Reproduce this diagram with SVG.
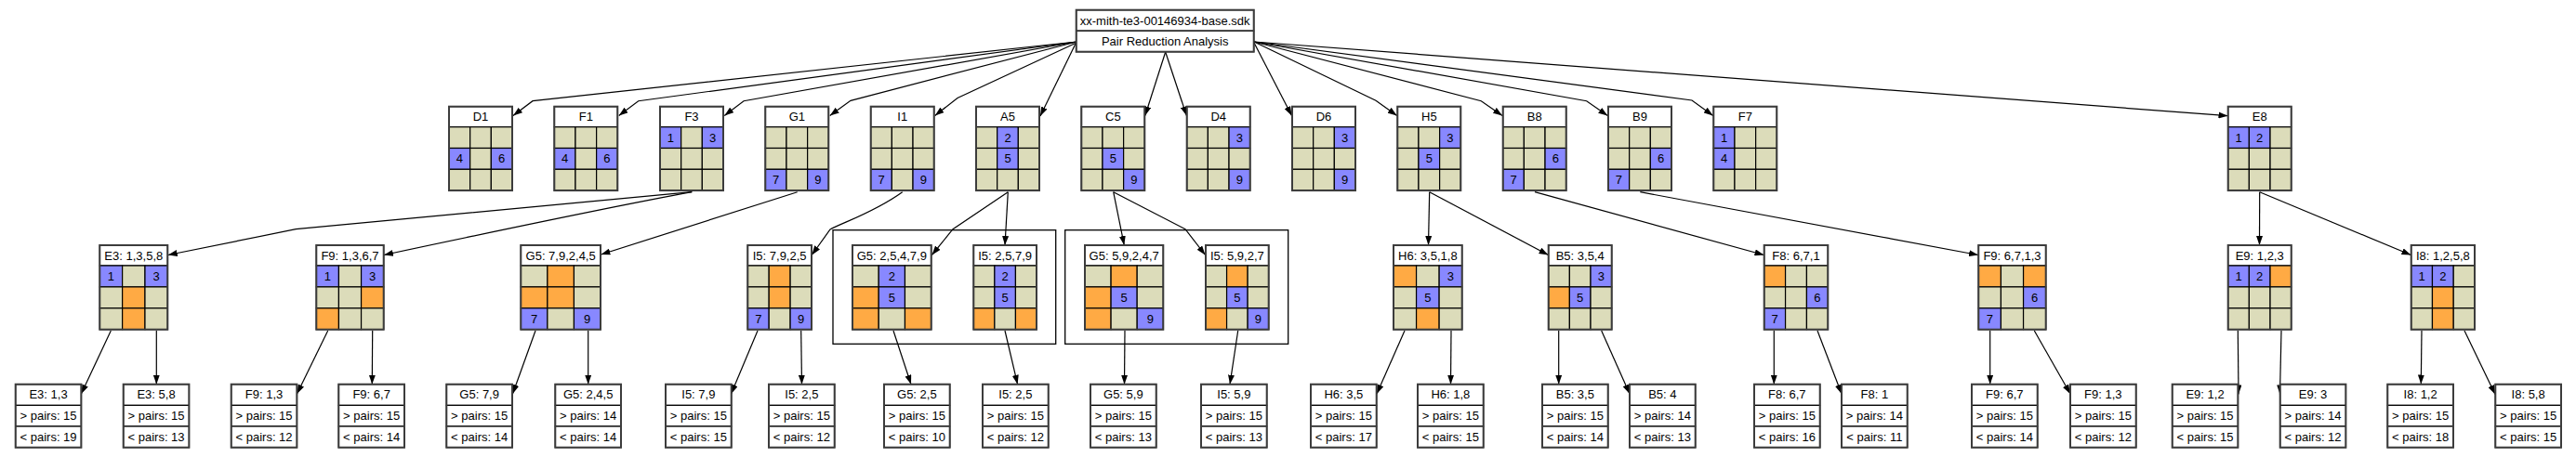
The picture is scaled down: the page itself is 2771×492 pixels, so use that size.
<svg xmlns="http://www.w3.org/2000/svg" width="2771" height="492" viewBox="0 0 2771 492">
<style>
.t{fill:#fff;stroke:#000;stroke-width:1.2}
.c{fill:#dcdcba;stroke:#000;stroke-width:1.2}
.b{fill:#8888ff;stroke:#000;stroke-width:1.2}
.o{fill:#ffaa44;stroke:#000;stroke-width:1.2}
.f{fill:none;stroke:#3c3c3c;stroke-width:2}
text{font-family:"Liberation Sans",Arial,sans-serif;font-size:13px;text-anchor:middle;fill:#000}
.e{fill:none;stroke:#000;stroke-width:1.2;marker-end:url(#ah)}
.cl{fill:none;stroke:#000;stroke-width:1.3}
</style>
<defs>
<marker id="ah" viewBox="0 0 10 7" refX="10" refY="3.5" markerWidth="10" markerHeight="7" markerUnits="userSpaceOnUse" orient="auto"><path d="M0,0L10,3.5L0,7z" fill="#000"/></marker>
</defs>
<rect width="2771" height="492" fill="#fff"/>
<g id="clusters">
<rect class="cl" x="896" y="247.7" width="239.7" height="122.6"/>
<rect class="cl" x="1145.7" y="247.7" width="240" height="122.6"/>
</g>
<g id="connectors">
<path class="e" d="M1158,45 L573,108.7 L552,124.5"/>
<path class="e" d="M1158,45 L686.7,108.7 L665.7,124.5"/>
<path class="e" d="M1158,45 L800,108.7 L779.3,124.5"/>
<path class="e" d="M1158,45 L915,108.3 L892.7,124.5"/>
<path class="e" d="M1158,46 L1030,105.5 L1005.7,124.5"/>
<path class="e" d="M1157,47 L1119,125"/>
<path class="e" d="M1253.7,56 L1231.8,124.5"/>
<path class="e" d="M1253.7,56 L1276.4,124.5"/>
<path class="e" d="M1349,46 L1389.5,124.5"/>
<path class="e" d="M1349,45 L1480,108.3 L1502.7,124.5"/>
<path class="e" d="M1349,45 L1593.3,108.7 L1616,124.5"/>
<path class="e" d="M1349,45 L1706.7,108.7 L1729.3,124.5"/>
<path class="e" d="M1349,45 L1820,108 L1842.7,124.5"/>
<path class="e" d="M1349,45 L2396.5,124.7"/>
<path class="e" d="M744.3,206.7 L318.3,246.7 L180.8,274.5"/>
<path class="e" d="M744.3,206.7 Q650,224 413,274.5"/>
<path class="e" d="M857.7,206.7 L646.5,274"/>
<path class="e" d="M970.7,206.7 C940,229 905,240 893,247 L873.3,274.5"/>
<path class="e" d="M1084.3,206.7 L1025,246.7 L1002.5,274.5"/>
<path class="e" d="M1084.3,206.7 L1081,264"/>
<path class="e" d="M1197.7,206.7 L1209.3,264"/>
<path class="e" d="M1197.7,206.7 L1275,246.7 L1296.5,274.5"/>
<path class="e" d="M1537.7,206.7 L1536.5,264"/>
<path class="e" d="M1537.7,206.7 L1665.5,274.5"/>
<path class="e" d="M1651,206.7 L1897.5,274.5"/>
<path class="e" d="M1764.3,206.7 L2128,274.5"/>
<path class="e" d="M2430.7,206.7 L2430.5,264"/>
<path class="e" d="M2430.7,206.7 L2593.5,274.5"/>
<path class="e" d="M119.3,356 L87.4,424"/>
<path class="e" d="M168.3,356 L168.3,413.7"/>
<path class="e" d="M352.7,356 L319.5,424"/>
<path class="e" d="M400.7,356 L400.3,413.7"/>
<path class="e" d="M576,356 L551.5,424"/>
<path class="e" d="M632.7,356 L632.7,413.7"/>
<path class="e" d="M815,356 L786.5,424"/>
<path class="e" d="M861.7,356 L862.5,413.7"/>
<path class="e" d="M961,356 L980,413.7"/>
<path class="e" d="M1081,356 L1094.6,413.7"/>
<path class="e" d="M1210,356 L1209.5,413.7"/>
<path class="e" d="M1331.7,356 L1323,413.7"/>
<path class="e" d="M1511,356 L1481,424"/>
<path class="e" d="M1561,356 L1560.5,413.7"/>
<path class="e" d="M1676.7,356 L1676.7,413.7"/>
<path class="e" d="M1722.7,356 L1753,424"/>
<path class="e" d="M1908.3,356 L1908.3,413.7"/>
<path class="e" d="M1955,356 L1981,424"/>
<path class="e" d="M2140.7,356 L2140.7,413.7"/>
<path class="e" d="M2188.3,356 L2227,424"/>
<path class="e" d="M2407.3,356 L2408,424.5"/>
<path class="e" d="M2454,356 L2452.5,424.5"/>
<path class="e" d="M2605,356 L2604.3,413.5"/>
<path class="e" d="M2651,356 L2684,424.5"/>
</g>

<g id="root" transform="translate(1157.7,10.7)">
<rect class="t" width="191" height="22.5"/><text x="95.5" y="16">xx-mith-te3-00146934-base.sdk</text>
<rect class="t" y="22.5" width="191" height="22.5"/><text x="95.5" y="38.5">Pair Reduction Analysis</text>
<rect class="f" width="191" height="45"/>
</g>

<g id="n_D1" transform="translate(483,114.7)">
<rect class="t" width="68" height="22"/><text x="34" y="15.5">D1</text>
<rect class="c" x="0" y="22" width="22.67" height="22.8"/><rect class="c" x="22.67" y="22" width="22.67" height="22.8"/><rect class="c" x="45.33" y="22" width="22.67" height="22.8"/>
<rect class="b" x="0" y="44.8" width="22.67" height="22.8"/><rect class="c" x="22.67" y="44.8" width="22.67" height="22.8"/><rect class="b" x="45.33" y="44.8" width="22.67" height="22.8"/>
<rect class="c" x="0" y="67.6" width="22.67" height="22.8"/><rect class="c" x="22.67" y="67.6" width="22.67" height="22.8"/><rect class="c" x="45.33" y="67.6" width="22.67" height="22.8"/>
<text x="11.33" y="60.8">4</text><text x="56.67" y="60.8">6</text>
<rect class="f" width="68" height="90.4"/>
</g>
<g id="n_F1" transform="translate(596.3,114.7)">
<rect class="t" width="68" height="22"/><text x="34" y="15.5">F1</text>
<rect class="c" x="0" y="22" width="22.67" height="22.8"/><rect class="c" x="22.67" y="22" width="22.67" height="22.8"/><rect class="c" x="45.33" y="22" width="22.67" height="22.8"/>
<rect class="b" x="0" y="44.8" width="22.67" height="22.8"/><rect class="c" x="22.67" y="44.8" width="22.67" height="22.8"/><rect class="b" x="45.33" y="44.8" width="22.67" height="22.8"/>
<rect class="c" x="0" y="67.6" width="22.67" height="22.8"/><rect class="c" x="22.67" y="67.6" width="22.67" height="22.8"/><rect class="c" x="45.33" y="67.6" width="22.67" height="22.8"/>
<text x="11.33" y="60.8">4</text><text x="56.67" y="60.8">6</text>
<rect class="f" width="68" height="90.4"/>
</g>
<g id="n_F3" transform="translate(710,114.7)">
<rect class="t" width="68" height="22"/><text x="34" y="15.5">F3</text>
<rect class="b" x="0" y="22" width="22.67" height="22.8"/><rect class="c" x="22.67" y="22" width="22.67" height="22.8"/><rect class="b" x="45.33" y="22" width="22.67" height="22.8"/>
<rect class="c" x="0" y="44.8" width="22.67" height="22.8"/><rect class="c" x="22.67" y="44.8" width="22.67" height="22.8"/><rect class="c" x="45.33" y="44.8" width="22.67" height="22.8"/>
<rect class="c" x="0" y="67.6" width="22.67" height="22.8"/><rect class="c" x="22.67" y="67.6" width="22.67" height="22.8"/><rect class="c" x="45.33" y="67.6" width="22.67" height="22.8"/>
<text x="11.33" y="38">1</text><text x="56.67" y="38">3</text>
<rect class="f" width="68" height="90.4"/>
</g>
<g id="n_G1" transform="translate(823.3,114.7)">
<rect class="t" width="68" height="22"/><text x="34" y="15.5">G1</text>
<rect class="c" x="0" y="22" width="22.67" height="22.8"/><rect class="c" x="22.67" y="22" width="22.67" height="22.8"/><rect class="c" x="45.33" y="22" width="22.67" height="22.8"/>
<rect class="c" x="0" y="44.8" width="22.67" height="22.8"/><rect class="c" x="22.67" y="44.8" width="22.67" height="22.8"/><rect class="c" x="45.33" y="44.8" width="22.67" height="22.8"/>
<rect class="b" x="0" y="67.6" width="22.67" height="22.8"/><rect class="c" x="22.67" y="67.6" width="22.67" height="22.8"/><rect class="b" x="45.33" y="67.6" width="22.67" height="22.8"/>
<text x="11.33" y="83.6">7</text><text x="56.67" y="83.6">9</text>
<rect class="f" width="68" height="90.4"/>
</g>
<g id="n_I1" transform="translate(936.7,114.7)">
<rect class="t" width="68" height="22"/><text x="34" y="15.5">I1</text>
<rect class="c" x="0" y="22" width="22.67" height="22.8"/><rect class="c" x="22.67" y="22" width="22.67" height="22.8"/><rect class="c" x="45.33" y="22" width="22.67" height="22.8"/>
<rect class="c" x="0" y="44.8" width="22.67" height="22.8"/><rect class="c" x="22.67" y="44.8" width="22.67" height="22.8"/><rect class="c" x="45.33" y="44.8" width="22.67" height="22.8"/>
<rect class="b" x="0" y="67.6" width="22.67" height="22.8"/><rect class="c" x="22.67" y="67.6" width="22.67" height="22.8"/><rect class="b" x="45.33" y="67.6" width="22.67" height="22.8"/>
<text x="11.33" y="83.6">7</text><text x="56.67" y="83.6">9</text>
<rect class="f" width="68" height="90.4"/>
</g>
<g id="n_A5" transform="translate(1050,114.7)">
<rect class="t" width="68" height="22"/><text x="34" y="15.5">A5</text>
<rect class="c" x="0" y="22" width="22.67" height="22.8"/><rect class="b" x="22.67" y="22" width="22.67" height="22.8"/><rect class="c" x="45.33" y="22" width="22.67" height="22.8"/>
<rect class="c" x="0" y="44.8" width="22.67" height="22.8"/><rect class="b" x="22.67" y="44.8" width="22.67" height="22.8"/><rect class="c" x="45.33" y="44.8" width="22.67" height="22.8"/>
<rect class="c" x="0" y="67.6" width="22.67" height="22.8"/><rect class="c" x="22.67" y="67.6" width="22.67" height="22.8"/><rect class="c" x="45.33" y="67.6" width="22.67" height="22.8"/>
<text x="34" y="38">2</text><text x="34" y="60.8">5</text>
<rect class="f" width="68" height="90.4"/>
</g>
<g id="n_C5" transform="translate(1163.3,114.7)">
<rect class="t" width="68" height="22"/><text x="34" y="15.5">C5</text>
<rect class="c" x="0" y="22" width="22.67" height="22.8"/><rect class="c" x="22.67" y="22" width="22.67" height="22.8"/><rect class="c" x="45.33" y="22" width="22.67" height="22.8"/>
<rect class="c" x="0" y="44.8" width="22.67" height="22.8"/><rect class="b" x="22.67" y="44.8" width="22.67" height="22.8"/><rect class="c" x="45.33" y="44.8" width="22.67" height="22.8"/>
<rect class="c" x="0" y="67.6" width="22.67" height="22.8"/><rect class="c" x="22.67" y="67.6" width="22.67" height="22.8"/><rect class="b" x="45.33" y="67.6" width="22.67" height="22.8"/>
<text x="34" y="60.8">5</text><text x="56.67" y="83.6">9</text>
<rect class="f" width="68" height="90.4"/>
</g>
<g id="n_D4" transform="translate(1276.7,114.7)">
<rect class="t" width="68" height="22"/><text x="34" y="15.5">D4</text>
<rect class="c" x="0" y="22" width="22.67" height="22.8"/><rect class="c" x="22.67" y="22" width="22.67" height="22.8"/><rect class="b" x="45.33" y="22" width="22.67" height="22.8"/>
<rect class="c" x="0" y="44.8" width="22.67" height="22.8"/><rect class="c" x="22.67" y="44.8" width="22.67" height="22.8"/><rect class="c" x="45.33" y="44.8" width="22.67" height="22.8"/>
<rect class="c" x="0" y="67.6" width="22.67" height="22.8"/><rect class="c" x="22.67" y="67.6" width="22.67" height="22.8"/><rect class="b" x="45.33" y="67.6" width="22.67" height="22.8"/>
<text x="56.67" y="38">3</text><text x="56.67" y="83.6">9</text>
<rect class="f" width="68" height="90.4"/>
</g>
<g id="n_D6" transform="translate(1390,114.7)">
<rect class="t" width="68" height="22"/><text x="34" y="15.5">D6</text>
<rect class="c" x="0" y="22" width="22.67" height="22.8"/><rect class="c" x="22.67" y="22" width="22.67" height="22.8"/><rect class="b" x="45.33" y="22" width="22.67" height="22.8"/>
<rect class="c" x="0" y="44.8" width="22.67" height="22.8"/><rect class="c" x="22.67" y="44.8" width="22.67" height="22.8"/><rect class="c" x="45.33" y="44.8" width="22.67" height="22.8"/>
<rect class="c" x="0" y="67.6" width="22.67" height="22.8"/><rect class="c" x="22.67" y="67.6" width="22.67" height="22.8"/><rect class="b" x="45.33" y="67.6" width="22.67" height="22.8"/>
<text x="56.67" y="38">3</text><text x="56.67" y="83.6">9</text>
<rect class="f" width="68" height="90.4"/>
</g>
<g id="n_H5" transform="translate(1503.3,114.7)">
<rect class="t" width="68" height="22"/><text x="34" y="15.5">H5</text>
<rect class="c" x="0" y="22" width="22.67" height="22.8"/><rect class="c" x="22.67" y="22" width="22.67" height="22.8"/><rect class="b" x="45.33" y="22" width="22.67" height="22.8"/>
<rect class="c" x="0" y="44.8" width="22.67" height="22.8"/><rect class="b" x="22.67" y="44.8" width="22.67" height="22.8"/><rect class="c" x="45.33" y="44.8" width="22.67" height="22.8"/>
<rect class="c" x="0" y="67.6" width="22.67" height="22.8"/><rect class="c" x="22.67" y="67.6" width="22.67" height="22.8"/><rect class="c" x="45.33" y="67.6" width="22.67" height="22.8"/>
<text x="56.67" y="38">3</text><text x="34" y="60.8">5</text>
<rect class="f" width="68" height="90.4"/>
</g>
<g id="n_B8" transform="translate(1616.7,114.7)">
<rect class="t" width="68" height="22"/><text x="34" y="15.5">B8</text>
<rect class="c" x="0" y="22" width="22.67" height="22.8"/><rect class="c" x="22.67" y="22" width="22.67" height="22.8"/><rect class="c" x="45.33" y="22" width="22.67" height="22.8"/>
<rect class="c" x="0" y="44.8" width="22.67" height="22.8"/><rect class="c" x="22.67" y="44.8" width="22.67" height="22.8"/><rect class="b" x="45.33" y="44.8" width="22.67" height="22.8"/>
<rect class="b" x="0" y="67.6" width="22.67" height="22.8"/><rect class="c" x="22.67" y="67.6" width="22.67" height="22.8"/><rect class="c" x="45.33" y="67.6" width="22.67" height="22.8"/>
<text x="56.67" y="60.8">6</text><text x="11.33" y="83.6">7</text>
<rect class="f" width="68" height="90.4"/>
</g>
<g id="n_B9" transform="translate(1730,114.7)">
<rect class="t" width="68" height="22"/><text x="34" y="15.5">B9</text>
<rect class="c" x="0" y="22" width="22.67" height="22.8"/><rect class="c" x="22.67" y="22" width="22.67" height="22.8"/><rect class="c" x="45.33" y="22" width="22.67" height="22.8"/>
<rect class="c" x="0" y="44.8" width="22.67" height="22.8"/><rect class="c" x="22.67" y="44.8" width="22.67" height="22.8"/><rect class="b" x="45.33" y="44.8" width="22.67" height="22.8"/>
<rect class="b" x="0" y="67.6" width="22.67" height="22.8"/><rect class="c" x="22.67" y="67.6" width="22.67" height="22.8"/><rect class="c" x="45.33" y="67.6" width="22.67" height="22.8"/>
<text x="56.67" y="60.8">6</text><text x="11.33" y="83.6">7</text>
<rect class="f" width="68" height="90.4"/>
</g>
<g id="n_F7" transform="translate(1843.3,114.7)">
<rect class="t" width="68" height="22"/><text x="34" y="15.5">F7</text>
<rect class="b" x="0" y="22" width="22.67" height="22.8"/><rect class="c" x="22.67" y="22" width="22.67" height="22.8"/><rect class="c" x="45.33" y="22" width="22.67" height="22.8"/>
<rect class="b" x="0" y="44.8" width="22.67" height="22.8"/><rect class="c" x="22.67" y="44.8" width="22.67" height="22.8"/><rect class="c" x="45.33" y="44.8" width="22.67" height="22.8"/>
<rect class="c" x="0" y="67.6" width="22.67" height="22.8"/><rect class="c" x="22.67" y="67.6" width="22.67" height="22.8"/><rect class="c" x="45.33" y="67.6" width="22.67" height="22.8"/>
<text x="11.33" y="38">1</text><text x="11.33" y="60.8">4</text>
<rect class="f" width="68" height="90.4"/>
</g>
<g id="n_E8" transform="translate(2396.7,114.7)">
<rect class="t" width="68" height="22"/><text x="34" y="15.5">E8</text>
<rect class="b" x="0" y="22" width="22.67" height="22.8"/><rect class="b" x="22.67" y="22" width="22.67" height="22.8"/><rect class="c" x="45.33" y="22" width="22.67" height="22.8"/>
<rect class="c" x="0" y="44.8" width="22.67" height="22.8"/><rect class="c" x="22.67" y="44.8" width="22.67" height="22.8"/><rect class="c" x="45.33" y="44.8" width="22.67" height="22.8"/>
<rect class="c" x="0" y="67.6" width="22.67" height="22.8"/><rect class="c" x="22.67" y="67.6" width="22.67" height="22.8"/><rect class="c" x="45.33" y="67.6" width="22.67" height="22.8"/>
<text x="11.33" y="38">1</text><text x="34" y="38">2</text>
<rect class="f" width="68" height="90.4"/>
</g>

<g id="n_E3_1358" transform="translate(107.3,264)">
<rect class="t" width="73" height="22"/><text x="36.5" y="15.5">E3: 1,3,5,8</text>
<rect class="b" x="0" y="22" width="24.33" height="22.9"/><rect class="c" x="24.33" y="22" width="24.33" height="22.9"/><rect class="b" x="48.67" y="22" width="24.33" height="22.9"/>
<rect class="c" x="0" y="44.9" width="24.33" height="22.9"/><rect class="o" x="24.33" y="44.9" width="24.33" height="22.9"/><rect class="c" x="48.67" y="44.9" width="24.33" height="22.9"/>
<rect class="c" x="0" y="67.8" width="24.33" height="22.9"/><rect class="o" x="24.33" y="67.8" width="24.33" height="22.9"/><rect class="c" x="48.67" y="67.8" width="24.33" height="22.9"/>
<text x="12.17" y="38">1</text><text x="60.83" y="38">3</text>
<rect class="f" width="73" height="90.7"/>
</g>
<g id="n_F9_1367" transform="translate(340.3,264)">
<rect class="t" width="72.4" height="22"/><text x="36.2" y="15.5">F9: 1,3,6,7</text>
<rect class="b" x="0" y="22" width="24.13" height="22.9"/><rect class="c" x="24.13" y="22" width="24.13" height="22.9"/><rect class="b" x="48.27" y="22" width="24.13" height="22.9"/>
<rect class="c" x="0" y="44.9" width="24.13" height="22.9"/><rect class="c" x="24.13" y="44.9" width="24.13" height="22.9"/><rect class="o" x="48.27" y="44.9" width="24.13" height="22.9"/>
<rect class="o" x="0" y="67.8" width="24.13" height="22.9"/><rect class="c" x="24.13" y="67.8" width="24.13" height="22.9"/><rect class="c" x="48.27" y="67.8" width="24.13" height="22.9"/>
<text x="12.07" y="38">1</text><text x="60.33" y="38">3</text>
<rect class="f" width="72.4" height="90.7"/>
</g>
<g id="n_G5_79245" transform="translate(560.3,264)">
<rect class="t" width="85.7" height="22"/><text x="42.85" y="15.5">G5: 7,9,2,4,5</text>
<rect class="c" x="0" y="22" width="28.57" height="22.9"/><rect class="o" x="28.57" y="22" width="28.57" height="22.9"/><rect class="c" x="57.13" y="22" width="28.57" height="22.9"/>
<rect class="o" x="0" y="44.9" width="28.57" height="22.9"/><rect class="o" x="28.57" y="44.9" width="28.57" height="22.9"/><rect class="c" x="57.13" y="44.9" width="28.57" height="22.9"/>
<rect class="b" x="0" y="67.8" width="28.57" height="22.9"/><rect class="c" x="28.57" y="67.8" width="28.57" height="22.9"/><rect class="b" x="57.13" y="67.8" width="28.57" height="22.9"/>
<text x="14.28" y="83.8">7</text><text x="71.42" y="83.8">9</text>
<rect class="f" width="85.7" height="90.7"/>
</g>
<g id="n_I5_7925" transform="translate(804.3,264)">
<rect class="t" width="68.7" height="22"/><text x="34.35" y="15.5">I5: 7,9,2,5</text>
<rect class="c" x="0" y="22" width="22.9" height="22.9"/><rect class="o" x="22.9" y="22" width="22.9" height="22.9"/><rect class="c" x="45.8" y="22" width="22.9" height="22.9"/>
<rect class="c" x="0" y="44.9" width="22.9" height="22.9"/><rect class="o" x="22.9" y="44.9" width="22.9" height="22.9"/><rect class="c" x="45.8" y="44.9" width="22.9" height="22.9"/>
<rect class="b" x="0" y="67.8" width="22.9" height="22.9"/><rect class="c" x="22.9" y="67.8" width="22.9" height="22.9"/><rect class="b" x="45.8" y="67.8" width="22.9" height="22.9"/>
<text x="11.45" y="83.8">7</text><text x="57.25" y="83.8">9</text>
<rect class="f" width="68.7" height="90.7"/>
</g>
<g id="n_G5_25479" transform="translate(917,264)">
<rect class="t" width="84.7" height="22"/><text x="42.35" y="15.5">G5: 2,5,4,7,9</text>
<rect class="c" x="0" y="22" width="28.23" height="22.9"/><rect class="b" x="28.23" y="22" width="28.23" height="22.9"/><rect class="c" x="56.47" y="22" width="28.23" height="22.9"/>
<rect class="o" x="0" y="44.9" width="28.23" height="22.9"/><rect class="b" x="28.23" y="44.9" width="28.23" height="22.9"/><rect class="c" x="56.47" y="44.9" width="28.23" height="22.9"/>
<rect class="o" x="0" y="67.8" width="28.23" height="22.9"/><rect class="c" x="28.23" y="67.8" width="28.23" height="22.9"/><rect class="o" x="56.47" y="67.8" width="28.23" height="22.9"/>
<text x="42.35" y="38">2</text><text x="42.35" y="60.9">5</text>
<rect class="f" width="84.7" height="90.7"/>
</g>
<g id="n_I5_2579" transform="translate(1047.3,264)">
<rect class="t" width="67.7" height="22"/><text x="33.85" y="15.5">I5: 2,5,7,9</text>
<rect class="c" x="0" y="22" width="22.57" height="22.9"/><rect class="b" x="22.57" y="22" width="22.57" height="22.9"/><rect class="c" x="45.13" y="22" width="22.57" height="22.9"/>
<rect class="c" x="0" y="44.9" width="22.57" height="22.9"/><rect class="b" x="22.57" y="44.9" width="22.57" height="22.9"/><rect class="c" x="45.13" y="44.9" width="22.57" height="22.9"/>
<rect class="o" x="0" y="67.8" width="22.57" height="22.9"/><rect class="c" x="22.57" y="67.8" width="22.57" height="22.9"/><rect class="o" x="45.13" y="67.8" width="22.57" height="22.9"/>
<text x="33.85" y="38">2</text><text x="33.85" y="60.9">5</text>
<rect class="f" width="67.7" height="90.7"/>
</g>
<g id="n_G5_59247" transform="translate(1167,264)">
<rect class="t" width="84.3" height="22"/><text x="42.15" y="15.5">G5: 5,9,2,4,7</text>
<rect class="c" x="0" y="22" width="28.1" height="22.9"/><rect class="o" x="28.1" y="22" width="28.1" height="22.9"/><rect class="c" x="56.2" y="22" width="28.1" height="22.9"/>
<rect class="o" x="0" y="44.9" width="28.1" height="22.9"/><rect class="b" x="28.1" y="44.9" width="28.1" height="22.9"/><rect class="c" x="56.2" y="44.9" width="28.1" height="22.9"/>
<rect class="o" x="0" y="67.8" width="28.1" height="22.9"/><rect class="c" x="28.1" y="67.8" width="28.1" height="22.9"/><rect class="b" x="56.2" y="67.8" width="28.1" height="22.9"/>
<text x="42.15" y="60.9">5</text><text x="70.25" y="83.8">9</text>
<rect class="f" width="84.3" height="90.7"/>
</g>
<g id="n_I5_5927" transform="translate(1297,264)">
<rect class="t" width="67.7" height="22"/><text x="33.85" y="15.5">I5: 5,9,2,7</text>
<rect class="c" x="0" y="22" width="22.57" height="22.9"/><rect class="o" x="22.57" y="22" width="22.57" height="22.9"/><rect class="c" x="45.13" y="22" width="22.57" height="22.9"/>
<rect class="c" x="0" y="44.9" width="22.57" height="22.9"/><rect class="b" x="22.57" y="44.9" width="22.57" height="22.9"/><rect class="c" x="45.13" y="44.9" width="22.57" height="22.9"/>
<rect class="o" x="0" y="67.8" width="22.57" height="22.9"/><rect class="c" x="22.57" y="67.8" width="22.57" height="22.9"/><rect class="b" x="45.13" y="67.8" width="22.57" height="22.9"/>
<text x="33.85" y="60.9">5</text><text x="56.42" y="83.8">9</text>
<rect class="f" width="67.7" height="90.7"/>
</g>
<g id="n_H6_3518" transform="translate(1499,264)">
<rect class="t" width="73.7" height="22"/><text x="36.85" y="15.5">H6: 3,5,1,8</text>
<rect class="o" x="0" y="22" width="24.57" height="22.9"/><rect class="c" x="24.57" y="22" width="24.57" height="22.9"/><rect class="b" x="49.13" y="22" width="24.57" height="22.9"/>
<rect class="c" x="0" y="44.9" width="24.57" height="22.9"/><rect class="b" x="24.57" y="44.9" width="24.57" height="22.9"/><rect class="c" x="49.13" y="44.9" width="24.57" height="22.9"/>
<rect class="c" x="0" y="67.8" width="24.57" height="22.9"/><rect class="o" x="24.57" y="67.8" width="24.57" height="22.9"/><rect class="c" x="49.13" y="67.8" width="24.57" height="22.9"/>
<text x="61.42" y="38">3</text><text x="36.85" y="60.9">5</text>
<rect class="f" width="73.7" height="90.7"/>
</g>
<g id="n_B5_354" transform="translate(1665.7,264)">
<rect class="t" width="68" height="22"/><text x="34" y="15.5">B5: 3,5,4</text>
<rect class="c" x="0" y="22" width="22.67" height="22.9"/><rect class="c" x="22.67" y="22" width="22.67" height="22.9"/><rect class="b" x="45.33" y="22" width="22.67" height="22.9"/>
<rect class="o" x="0" y="44.9" width="22.67" height="22.9"/><rect class="b" x="22.67" y="44.9" width="22.67" height="22.9"/><rect class="c" x="45.33" y="44.9" width="22.67" height="22.9"/>
<rect class="c" x="0" y="67.8" width="22.67" height="22.9"/><rect class="c" x="22.67" y="67.8" width="22.67" height="22.9"/><rect class="c" x="45.33" y="67.8" width="22.67" height="22.9"/>
<text x="56.67" y="38">3</text><text x="34" y="60.9">5</text>
<rect class="f" width="68" height="90.7"/>
</g>
<g id="n_F8_671" transform="translate(1897.7,264)">
<rect class="t" width="68.6" height="22"/><text x="34.3" y="15.5">F8: 6,7,1</text>
<rect class="o" x="0" y="22" width="22.87" height="22.9"/><rect class="c" x="22.87" y="22" width="22.87" height="22.9"/><rect class="c" x="45.73" y="22" width="22.87" height="22.9"/>
<rect class="c" x="0" y="44.9" width="22.87" height="22.9"/><rect class="c" x="22.87" y="44.9" width="22.87" height="22.9"/><rect class="b" x="45.73" y="44.9" width="22.87" height="22.9"/>
<rect class="b" x="0" y="67.8" width="22.87" height="22.9"/><rect class="c" x="22.87" y="67.8" width="22.87" height="22.9"/><rect class="c" x="45.73" y="67.8" width="22.87" height="22.9"/>
<text x="57.17" y="60.9">6</text><text x="11.43" y="83.8">7</text>
<rect class="f" width="68.6" height="90.7"/>
</g>
<g id="n_F9_6713" transform="translate(2128.3,264)">
<rect class="t" width="72.4" height="22"/><text x="36.2" y="15.5">F9: 6,7,1,3</text>
<rect class="o" x="0" y="22" width="24.13" height="22.9"/><rect class="c" x="24.13" y="22" width="24.13" height="22.9"/><rect class="o" x="48.27" y="22" width="24.13" height="22.9"/>
<rect class="c" x="0" y="44.9" width="24.13" height="22.9"/><rect class="c" x="24.13" y="44.9" width="24.13" height="22.9"/><rect class="b" x="48.27" y="44.9" width="24.13" height="22.9"/>
<rect class="b" x="0" y="67.8" width="24.13" height="22.9"/><rect class="c" x="24.13" y="67.8" width="24.13" height="22.9"/><rect class="c" x="48.27" y="67.8" width="24.13" height="22.9"/>
<text x="60.33" y="60.9">6</text><text x="12.07" y="83.8">7</text>
<rect class="f" width="72.4" height="90.7"/>
</g>
<g id="n_E9_123" transform="translate(2396.7,264)">
<rect class="t" width="68" height="22"/><text x="34" y="15.5">E9: 1,2,3</text>
<rect class="b" x="0" y="22" width="22.67" height="22.9"/><rect class="b" x="22.67" y="22" width="22.67" height="22.9"/><rect class="o" x="45.33" y="22" width="22.67" height="22.9"/>
<rect class="c" x="0" y="44.9" width="22.67" height="22.9"/><rect class="c" x="22.67" y="44.9" width="22.67" height="22.9"/><rect class="c" x="45.33" y="44.9" width="22.67" height="22.9"/>
<rect class="c" x="0" y="67.8" width="22.67" height="22.9"/><rect class="c" x="22.67" y="67.8" width="22.67" height="22.9"/><rect class="c" x="45.33" y="67.8" width="22.67" height="22.9"/>
<text x="11.33" y="38">1</text><text x="34" y="38">2</text>
<rect class="f" width="68" height="90.7"/>
</g>
<g id="n_I8_1258" transform="translate(2593.7,264)">
<rect class="t" width="68.3" height="22"/><text x="34.15" y="15.5">I8: 1,2,5,8</text>
<rect class="b" x="0" y="22" width="22.77" height="22.9"/><rect class="b" x="22.77" y="22" width="22.77" height="22.9"/><rect class="c" x="45.53" y="22" width="22.77" height="22.9"/>
<rect class="c" x="0" y="44.9" width="22.77" height="22.9"/><rect class="o" x="22.77" y="44.9" width="22.77" height="22.9"/><rect class="c" x="45.53" y="44.9" width="22.77" height="22.9"/>
<rect class="c" x="0" y="67.8" width="22.77" height="22.9"/><rect class="o" x="22.77" y="67.8" width="22.77" height="22.9"/><rect class="c" x="45.53" y="67.8" width="22.77" height="22.9"/>
<text x="11.38" y="38">1</text><text x="34.15" y="38">2</text>
<rect class="f" width="68.3" height="90.7"/>
</g>

<g id="l_E3_13" transform="translate(16.7,413.7)"><rect class="t" width="70.7" height="22.67"/><rect class="t" y="22.67" width="70.7" height="22.67"/><rect class="t" y="45.33" width="70.7" height="22.67"/><text x="35.35" y="15.8">E3: 1,3</text><text x="35.35" y="38.5">&gt; pairs: 15</text><text x="35.35" y="61.1">&lt; pairs: 19</text><rect class="f" width="70.7" height="68"/></g>
<g id="l_E3_58" transform="translate(132.7,413.7)"><rect class="t" width="70.7" height="22.67"/><rect class="t" y="22.67" width="70.7" height="22.67"/><rect class="t" y="45.33" width="70.7" height="22.67"/><text x="35.35" y="15.8">E3: 5,8</text><text x="35.35" y="38.5">&gt; pairs: 15</text><text x="35.35" y="61.1">&lt; pairs: 13</text><rect class="f" width="70.7" height="68"/></g>
<g id="l_F9_13" transform="translate(248.7,413.7)"><rect class="t" width="70.7" height="22.67"/><rect class="t" y="22.67" width="70.7" height="22.67"/><rect class="t" y="45.33" width="70.7" height="22.67"/><text x="35.35" y="15.8">F9: 1,3</text><text x="35.35" y="38.5">&gt; pairs: 15</text><text x="35.35" y="61.1">&lt; pairs: 12</text><rect class="f" width="70.7" height="68"/></g>
<g id="l_F9_67" transform="translate(364.3,413.7)"><rect class="t" width="70.7" height="22.67"/><rect class="t" y="22.67" width="70.7" height="22.67"/><rect class="t" y="45.33" width="70.7" height="22.67"/><text x="35.35" y="15.8">F9: 6,7</text><text x="35.35" y="38.5">&gt; pairs: 15</text><text x="35.35" y="61.1">&lt; pairs: 14</text><rect class="f" width="70.7" height="68"/></g>
<g id="l_G5_79" transform="translate(480.3,413.7)"><rect class="t" width="70.7" height="22.67"/><rect class="t" y="22.67" width="70.7" height="22.67"/><rect class="t" y="45.33" width="70.7" height="22.67"/><text x="35.35" y="15.8">G5: 7,9</text><text x="35.35" y="38.5">&gt; pairs: 15</text><text x="35.35" y="61.1">&lt; pairs: 14</text><rect class="f" width="70.7" height="68"/></g>
<g id="l_G5_245" transform="translate(597.3,413.7)"><rect class="t" width="70.7" height="22.67"/><rect class="t" y="22.67" width="70.7" height="22.67"/><rect class="t" y="45.33" width="70.7" height="22.67"/><text x="35.35" y="15.8">G5: 2,4,5</text><text x="35.35" y="38.5">&gt; pairs: 14</text><text x="35.35" y="61.1">&lt; pairs: 14</text><rect class="f" width="70.7" height="68"/></g>
<g id="l_I5_79" transform="translate(716,413.7)"><rect class="t" width="70.7" height="22.67"/><rect class="t" y="22.67" width="70.7" height="22.67"/><rect class="t" y="45.33" width="70.7" height="22.67"/><text x="35.35" y="15.8">I5: 7,9</text><text x="35.35" y="38.5">&gt; pairs: 15</text><text x="35.35" y="61.1">&lt; pairs: 15</text><rect class="f" width="70.7" height="68"/></g>
<g id="l_I5_25a" transform="translate(827,413.7)"><rect class="t" width="70.7" height="22.67"/><rect class="t" y="22.67" width="70.7" height="22.67"/><rect class="t" y="45.33" width="70.7" height="22.67"/><text x="35.35" y="15.8">I5: 2,5</text><text x="35.35" y="38.5">&gt; pairs: 15</text><text x="35.35" y="61.1">&lt; pairs: 12</text><rect class="f" width="70.7" height="68"/></g>
<g id="l_G5_25" transform="translate(951,413.7)"><rect class="t" width="70.7" height="22.67"/><rect class="t" y="22.67" width="70.7" height="22.67"/><rect class="t" y="45.33" width="70.7" height="22.67"/><text x="35.35" y="15.8">G5: 2,5</text><text x="35.35" y="38.5">&gt; pairs: 15</text><text x="35.35" y="61.1">&lt; pairs: 10</text><rect class="f" width="70.7" height="68"/></g>
<g id="l_I5_25b" transform="translate(1057,413.7)"><rect class="t" width="70.7" height="22.67"/><rect class="t" y="22.67" width="70.7" height="22.67"/><rect class="t" y="45.33" width="70.7" height="22.67"/><text x="35.35" y="15.8">I5: 2,5</text><text x="35.35" y="38.5">&gt; pairs: 15</text><text x="35.35" y="61.1">&lt; pairs: 12</text><rect class="f" width="70.7" height="68"/></g>
<g id="l_G5_59" transform="translate(1173,413.7)"><rect class="t" width="70.7" height="22.67"/><rect class="t" y="22.67" width="70.7" height="22.67"/><rect class="t" y="45.33" width="70.7" height="22.67"/><text x="35.35" y="15.8">G5: 5,9</text><text x="35.35" y="38.5">&gt; pairs: 15</text><text x="35.35" y="61.1">&lt; pairs: 13</text><rect class="f" width="70.7" height="68"/></g>
<g id="l_I5_59" transform="translate(1292,413.7)"><rect class="t" width="70.7" height="22.67"/><rect class="t" y="22.67" width="70.7" height="22.67"/><rect class="t" y="45.33" width="70.7" height="22.67"/><text x="35.35" y="15.8">I5: 5,9</text><text x="35.35" y="38.5">&gt; pairs: 15</text><text x="35.35" y="61.1">&lt; pairs: 13</text><rect class="f" width="70.7" height="68"/></g>
<g id="l_H6_35" transform="translate(1410,413.7)"><rect class="t" width="70.7" height="22.67"/><rect class="t" y="22.67" width="70.7" height="22.67"/><rect class="t" y="45.33" width="70.7" height="22.67"/><text x="35.35" y="15.8">H6: 3,5</text><text x="35.35" y="38.5">&gt; pairs: 15</text><text x="35.35" y="61.1">&lt; pairs: 17</text><rect class="f" width="70.7" height="68"/></g>
<g id="l_H6_18" transform="translate(1525,413.7)"><rect class="t" width="70.7" height="22.67"/><rect class="t" y="22.67" width="70.7" height="22.67"/><rect class="t" y="45.33" width="70.7" height="22.67"/><text x="35.35" y="15.8">H6: 1,8</text><text x="35.35" y="38.5">&gt; pairs: 15</text><text x="35.35" y="61.1">&lt; pairs: 15</text><rect class="f" width="70.7" height="68"/></g>
<g id="l_B5_35" transform="translate(1659,413.7)"><rect class="t" width="70.7" height="22.67"/><rect class="t" y="22.67" width="70.7" height="22.67"/><rect class="t" y="45.33" width="70.7" height="22.67"/><text x="35.35" y="15.8">B5: 3,5</text><text x="35.35" y="38.5">&gt; pairs: 15</text><text x="35.35" y="61.1">&lt; pairs: 14</text><rect class="f" width="70.7" height="68"/></g>
<g id="l_B5_4" transform="translate(1753,413.7)"><rect class="t" width="70.7" height="22.67"/><rect class="t" y="22.67" width="70.7" height="22.67"/><rect class="t" y="45.33" width="70.7" height="22.67"/><text x="35.35" y="15.8">B5: 4</text><text x="35.35" y="38.5">&gt; pairs: 14</text><text x="35.35" y="61.1">&lt; pairs: 13</text><rect class="f" width="70.7" height="68"/></g>
<g id="l_F8_67" transform="translate(1887,413.7)"><rect class="t" width="70.7" height="22.67"/><rect class="t" y="22.67" width="70.7" height="22.67"/><rect class="t" y="45.33" width="70.7" height="22.67"/><text x="35.35" y="15.8">F8: 6,7</text><text x="35.35" y="38.5">&gt; pairs: 15</text><text x="35.35" y="61.1">&lt; pairs: 16</text><rect class="f" width="70.7" height="68"/></g>
<g id="l_F8_1" transform="translate(1981,413.7)"><rect class="t" width="70.7" height="22.67"/><rect class="t" y="22.67" width="70.7" height="22.67"/><rect class="t" y="45.33" width="70.7" height="22.67"/><text x="35.35" y="15.8">F8: 1</text><text x="35.35" y="38.5">&gt; pairs: 14</text><text x="35.35" y="61.1">&lt; pairs: 11</text><rect class="f" width="70.7" height="68"/></g>
<g id="l_F9_67b" transform="translate(2121,413.7)"><rect class="t" width="70.7" height="22.67"/><rect class="t" y="22.67" width="70.7" height="22.67"/><rect class="t" y="45.33" width="70.7" height="22.67"/><text x="35.35" y="15.8">F9: 6,7</text><text x="35.35" y="38.5">&gt; pairs: 15</text><text x="35.35" y="61.1">&lt; pairs: 14</text><rect class="f" width="70.7" height="68"/></g>
<g id="l_F9_13b" transform="translate(2227,413.7)"><rect class="t" width="70.7" height="22.67"/><rect class="t" y="22.67" width="70.7" height="22.67"/><rect class="t" y="45.33" width="70.7" height="22.67"/><text x="35.35" y="15.8">F9: 1,3</text><text x="35.35" y="38.5">&gt; pairs: 15</text><text x="35.35" y="61.1">&lt; pairs: 12</text><rect class="f" width="70.7" height="68"/></g>
<g id="l_E9_12" transform="translate(2336.7,413.7)"><rect class="t" width="70.7" height="22.67"/><rect class="t" y="22.67" width="70.7" height="22.67"/><rect class="t" y="45.33" width="70.7" height="22.67"/><text x="35.35" y="15.8">E9: 1,2</text><text x="35.35" y="38.5">&gt; pairs: 15</text><text x="35.35" y="61.1">&lt; pairs: 15</text><rect class="f" width="70.7" height="68"/></g>
<g id="l_E9_3" transform="translate(2452.7,413.7)"><rect class="t" width="70.7" height="22.67"/><rect class="t" y="22.67" width="70.7" height="22.67"/><rect class="t" y="45.33" width="70.7" height="22.67"/><text x="35.35" y="15.8">E9: 3</text><text x="35.35" y="38.5">&gt; pairs: 14</text><text x="35.35" y="61.1">&lt; pairs: 12</text><rect class="f" width="70.7" height="68"/></g>
<g id="l_I8_12" transform="translate(2568.3,413.7)"><rect class="t" width="70.7" height="22.67"/><rect class="t" y="22.67" width="70.7" height="22.67"/><rect class="t" y="45.33" width="70.7" height="22.67"/><text x="35.35" y="15.8">I8: 1,2</text><text x="35.35" y="38.5">&gt; pairs: 15</text><text x="35.35" y="61.1">&lt; pairs: 18</text><rect class="f" width="70.7" height="68"/></g>
<g id="l_I8_58" transform="translate(2684.3,413.7)"><rect class="t" width="70.7" height="22.67"/><rect class="t" y="22.67" width="70.7" height="22.67"/><rect class="t" y="45.33" width="70.7" height="22.67"/><text x="35.35" y="15.8">I8: 5,8</text><text x="35.35" y="38.5">&gt; pairs: 15</text><text x="35.35" y="61.1">&lt; pairs: 15</text><rect class="f" width="70.7" height="68"/></g>
</svg>
